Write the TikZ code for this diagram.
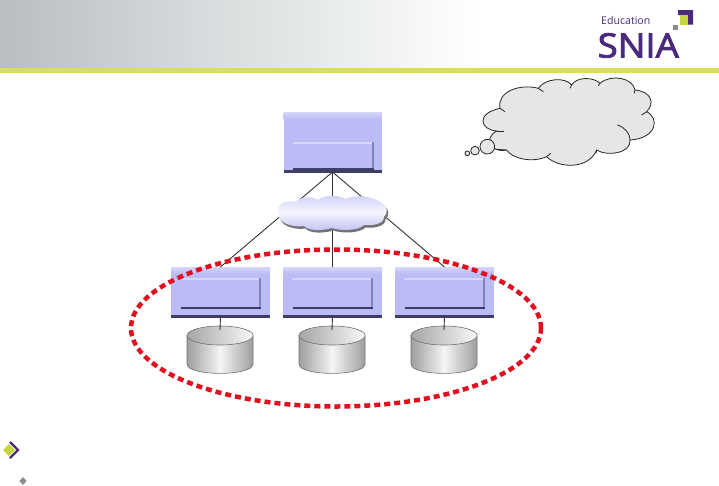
\documentclass[tikz,border=0pt]{standalone}
\usepackage{fontspec}
\setmainfont{Open Sans}
\newfontfamily\logofont[FakeBold=2.5,FakeStretch=1.09]{Open Sans}
\usetikzlibrary{shadings,shapes.geometric}
\definecolor{boxfill}{HTML}{BBBBF5}
\definecolor{boxlight}{HTML}{D6D6FA}
\definecolor{boxdark}{HTML}{3E3E68}
\definecolor{sniapurple}{HTML}{4B2A7D}
\definecolor{snialime}{HTML}{C4D63C}
\definecolor{bandlime}{HTML}{D9DE5F}
\definecolor{ringred}{HTML}{E0101E}
\definecolor{thought}{HTML}{E6E6E6}
\definecolor{headgrey}{HTML}{B9BEC1}
\definecolor{headmid}{HTML}{DADFE0}
\tikzset{
  link/.style={draw=black!80,line width=0.9pt},
  diskside/.style={draw=black!55,line width=0.6pt,left color=black!38,right color=black!38,middle color=black!4},
  disktop/.style={draw=black!55,line width=0.6pt,left color=black!35,right color=black!3},
  bubble/.style={draw=black!85,line width=0.8pt,fill=thought},
  cusp/.style={draw=black!85,line width=0.8pt},
}
% \srv{name}{left x}{top y}{height}{inner top}{inner bottom}
\newcommand{\srv}[6]{%
  \begin{scope}[shift={(#2,#3)}]
    \fill[boxfill] (0,0) rectangle (98.5,#4);
    \shade[top color=boxlight,bottom color=boxfill] (0,0) rectangle (98.5,7);
    \fill[boxlight] (9,#5) rectangle (89,#5+2);
    \fill[boxfill!55!boxdark] (88,#5) rectangle (90,#6);
    \fill[boxdark] (9.5,#6-1) rectangle (90,#6+1);
    \fill[boxdark] (0,#4-2.6) rectangle (98.5,#4);
    \node[inner sep=0pt,minimum width=98.5pt,minimum height=#4pt,anchor=north west] (#1) at (0,0) {};
  \end{scope}}
% \dsk{name}{left x}
\newcommand{\dsk}[2]{%
  \begin{scope}[shift={(#2,0)}]
    \path[diskside] (0,335.5) -- (0,364) .. controls (0,376.5) and (66,376.5) .. (66,364) -- (66,335.5) -- cycle;
    \path[disktop] (33,335.5) ellipse[x radius=33,y radius=9.5];
    \coordinate (#1) at (33,330);
  \end{scope}}
\begin{document}
\begin{tikzpicture}[x=1pt,y=-1pt]
\useasboundingbox (0,0) rectangle (719,485);
\fill[white] (0,0) rectangle (719,485);
% header
\shade[left color=headgrey,right color=headmid] (0,0) rectangle (230,68);
\shade[left color=headmid,right color=white] (230,0) rectangle (480,68);
\fill[bandlime] (0,68) rectangle (719,72.5);
% logo
\node[anchor=west,inner sep=0pt,text=sniapurple,font=\fontsize{10.6}{11}\selectfont] (edu) at (601,20.5) {Education};
\node[anchor=base west,inner sep=0pt,text=sniapurple,font=\logofont\fontsize{33.6}{34}\selectfont] (snia) at (597.5,57.5) {SNIA};
\fill[sniapurple] (678,10) -- (693,10) -- (693,24.5) -- (688,24.5) -- (688,15) -- (678,15) -- cycle;
\fill[snialime] (680,15) rectangle (688,24.5);
\fill[black!45] (673,25) rectangle (678,30);
% servers
\srv{top}{283.5}{112}{61}{30}{56.5}
\srv{a}{171}{267}{50.5}{11}{40.7}
\srv{b}{283}{267}{50.5}{11}{40.7}
\srv{c}{395}{267}{50.5}{11}{40.7}
\coordinate (hub) at (332.5,172);
\draw[link] (hub) -- (a.north);
\draw[link] (hub) -- (b.north);
\draw[link] (hub) -- (c.north);
% network cloud
\begin{scope}
  \def\netcloud{(279,213) .. controls (275,205) and (285,199) .. (296,202)
    .. controls (301,196) and (312,196) .. (318,200)
    .. controls (325,194) and (340,195) .. (345,199)
    .. controls (355,194) and (372,196) .. (382,203)
    .. controls (388,206) and (388,213) .. (384,217)
    .. controls (384,224) and (372,226) .. (364,225)
    .. controls (358,231) and (340,231) .. (332,228)
    .. controls (322,231) and (308,231) .. (304,226)
    .. controls (292,228) and (276,222) .. (279,213) -- cycle}
  \fill[black!55,shift={(1.5,2.5)}] \netcloud;
  \shade[top color=boxfill!70,bottom color=boxfill!90,middle color=boxfill!15] \netcloud;
\end{scope}
\node[inner sep=0pt,minimum width=106pt,minimum height=36pt] (net) at (333,213) {};
% disks
\dsk{da}{187}
\dsk{db}{299}
\dsk{dc}{411}
\draw[link] (a.south) -- (da);
\draw[link] (b.south) -- (db);
\draw[link] (c.south) -- (dc);
% red ring
\node[draw=ringred,line width=4.5pt,dash pattern=on 6pt off 4pt,ellipse,inner sep=0pt,minimum width=410pt,minimum height=157pt] (ring) at (336,328) {};
% thought cloud
\begin{scope}[shift={(455,70)},x=0.3333pt,y=-0.3333pt]
\path[bubble] (125,183) .. controls (75,180) and (62,130) .. (135,115)
  .. controls (125,65) and (195,40) .. (250,55)
  .. controls (270,25) and (330,20) .. (350,45)
  .. controls (365,20) and (415,20) .. (435,40)
  .. controls (470,10) and (535,25) .. (540,60)
  .. controls (590,65) and (600,100) .. (575,125)
  .. controls (615,145) and (605,205) .. (525,210)
  .. controls (530,250) and (455,260) .. (425,240)
  .. controls (400,300) and (310,295) .. (275,260)
  .. controls (230,280) and (170,265) .. (155,240)
  .. controls (105,250) and (85,205) .. (125,183) -- cycle;
\draw[cusp] (135,115) .. controls (140,118) and (145,122) .. (150,125);
\draw[cusp] (250,55) .. controls (255,58) and (260,62) .. (265,65);
\draw[cusp] (350,45) -- (345,55);
\draw[cusp] (435,40) -- (430,47);
\draw[cusp] (540,60) -- (538,70);
\draw[cusp] (575,125) -- (560,135);
\draw[cusp] (525,210) .. controls (525,190) and (510,172) .. (487,165);
\draw[cusp] (425,240) -- (423,250);
\draw[cusp] (275,260) -- (287,250);
\draw[cusp] (155,240) -- (125,238);
\draw[cusp] (125,183) -- (147,183);
\draw[bubble] (97,230) circle[radius=22];
\draw[bubble] (60,242) circle[radius=13];
\draw[bubble] (37,250) circle[radius=7];
\end{scope}
% bullets
\fill[snialime] (3,450) -- (9,444) -- (15,450) -- (9,456) -- cycle;
\draw[sniapurple,line width=2.2pt] (10,442) -- (18,450) -- (10,458);
\fill[black!45] (23,477) -- (26.5,481) -- (23,485) -- (19.5,481) -- cycle;
\end{tikzpicture}
\end{document}
